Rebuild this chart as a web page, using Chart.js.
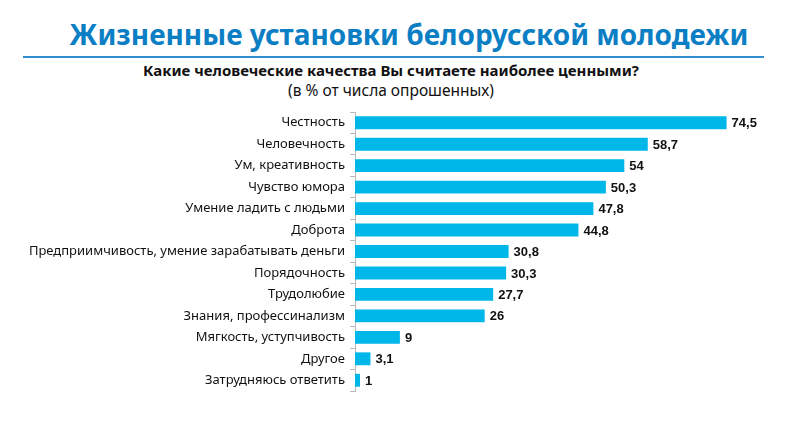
<!DOCTYPE html>
<html><head><meta charset="utf-8">
<script src="https://cdn.jsdelivr.net/npm/chart.js@4"></script>
<style>
html,body{margin:0;padding:0;background:#fff;}
#wrap{position:relative;width:800px;height:437px;overflow:hidden;font-family:"Noto Sans",sans-serif;}
.t{position:absolute;left:0;width:800px;text-align:center;white-space:nowrap;}
#h1{top:14px;left:9px;font-size:28px;font-weight:bold;color:#0b7ec4;line-height:40px;}
#rule{position:absolute;left:23px;width:741px;top:56px;height:2px;background:#2f8fd0;}
#h2{top:59px;left:-9px;font-size:15px;font-weight:bold;color:#111;line-height:22px;}
#h3{top:80px;left:-9px;font-size:15.5px;color:#111;line-height:20px;}
canvas{position:absolute;left:0;top:0;}
</style></head>
<body><div id="wrap">
<div class="t" id="h1">Жизненные установки белорусской молодежи</div>
<div id="rule"></div>
<div class="t" id="h2">Какие человеческие качества Вы считаете наиболее ценными?</div>
<div class="t" id="h3">(в % от числа опрошенных)</div>
<canvas id="c" width="800" height="437"></canvas>
</div>
<script>
const categories = [
  "Честность",
  "Человечность",
  "Ум, креативность",
  "Чувство юмора",
  "Умение ладить с людьми",
  "Доброта",
  "Предприимчивость, умение зарабатывать деньги",
  "Порядочность",
  "Трудолюбие",
  "Знания, профессинализм",
  "Мягкость, уступчивость",
  "Другое",
  "Затрудняюсь ответить"
];
const values = [74.5, 58.7, 54, 50.3, 47.8, 44.8, 30.8, 30.3, 27.7, 26, 9, 3.1, 1];

const valueLabels = {
  id: 'valueLabels',
  afterDatasetsDraw(chart) {
    const ctx = chart.ctx;
    const meta = chart.getDatasetMeta(0);
    ctx.save();
    ctx.font = 'bold 13px "Liberation Sans", Arial, sans-serif';
    ctx.fillStyle = '#111';
    ctx.textAlign = 'left';
    ctx.textBaseline = 'middle';
    meta.data.forEach((bar, i) => {
      const v = chart.data.datasets[0].data[i];
      ctx.fillText(String(v).replace('.', ','), bar.x + 5, bar.y + 1);
    });
    ctx.restore();
  }
};

new Chart(document.getElementById('c'), {
  type: 'bar',
  data: {
    labels: categories,
    datasets: [{
      data: values,
      backgroundColor: '#00b7ea',
      borderWidth: 0,
      categoryPercentage: 0.6,
      barPercentage: 1.0
    }]
  },
  options: {
    indexAxis: 'y',
    responsive: false,
    animation: false,
    layout: { padding: { top: 112, bottom: 46, left: 0, right: 46 } },
    plugins: { legend: { display: false }, tooltip: { enabled: false }, title: { display: false } },
    scales: {
      x: { display: false, min: 0, max: 80 },
      y: {
        afterFit(s) { s.width = 355; },
        border: { display: true, color: '#b8b8b8', width: 1 },
        grid: { display: true, drawOnChartArea: false, drawTicks: true, tickLength: 5, color: '#b8b8b8', offset: true },
        ticks: { color: '#111', padding: 5, font: { family: '"Noto Sans", sans-serif', size: 13 } }
      }
    }
  },
  plugins: [valueLabels]
});
</script>
</body></html>
